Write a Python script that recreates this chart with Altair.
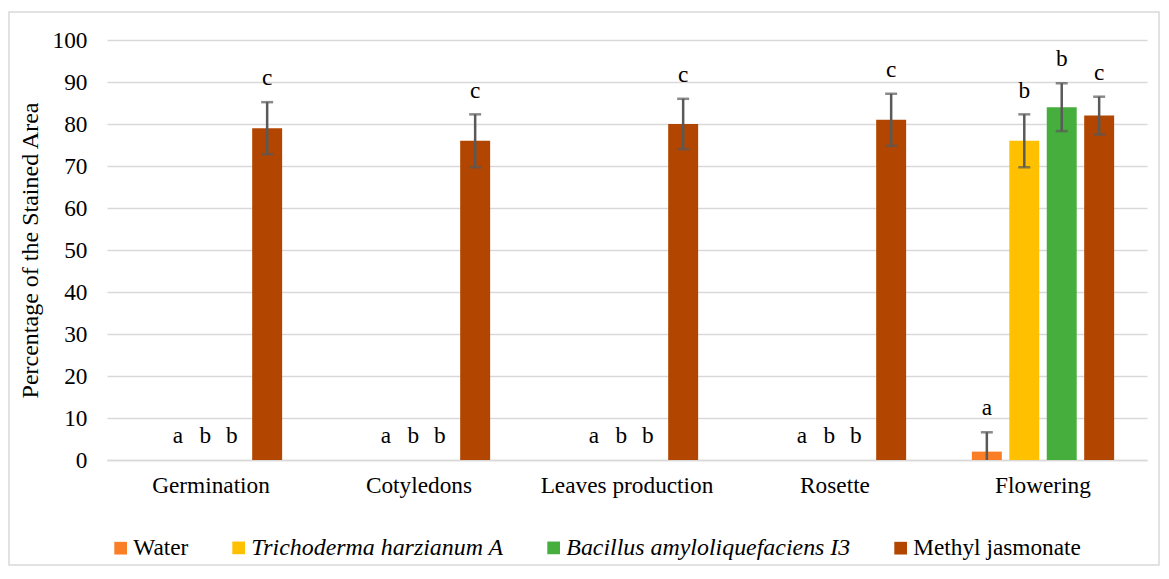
import altair as alt
import pandas as pd

categories = ["Germination", "Cotyledons", "Leaves production", "Rosette", "Flowering"]
series = ["Water", "Trichoderma harzianum A", "Bacillus amyloliquefaciens I3", "Methyl jasmonate"]
colors = ["#FA7E26", "#FFC000", "#46AE3C", "#B24500"]

water_values = [0, 0, 0, 0, 2]
trichoderma_values = [0, 0, 0, 0, 76]
bacillus_values = [0, 0, 0, 0, 84]
mj_values = [79, 76, 80, 81, 82]

water_err = [0, 0, 0, 0, 4.6]
trichoderma_err = [0, 0, 0, 0, 6.3]
bacillus_err = [0, 0, 0, 0, 5.7]
mj_err = [6.2, 6.3, 6.0, 6.2, 4.5]

water_letters = ["a", "a", "a", "a", "a"]
trichoderma_letters = ["b", "b", "b", "b", "b"]
bacillus_letters = ["b", "b", "b", "b", "b"]
mj_letters = ["c", "c", "c", "c", "c"]

rows = []
for s, vals, errs, lets in zip(
    series,
    [water_values, trichoderma_values, bacillus_values, mj_values],
    [water_err, trichoderma_err, bacillus_err, mj_err],
    [water_letters, trichoderma_letters, bacillus_letters, mj_letters],
):
    for i, c in enumerate(categories):
        rows.append({"stage": c, "treatment": s, "value": vals[i], "err": errs[i], "letter": lets[i]})
df = pd.DataFrame(rows)

FONT = "Liberation Serif"
FS = 23.3
GRID = "#D9D9D9"
ERRC = "#595959"
ITALIC_TEST = "indexof(['Trichoderma harzianum A','Bacillus amyloliquefaciens I3'], datum.label) >= 0"

x_enc = alt.X(
    "stage:N",
    sort=categories,
    scale=alt.Scale(paddingInner=0.28, paddingOuter=0.14),
    axis=alt.Axis(
        title=None, labelAngle=0, labelFont=FONT, labelFontSize=FS, labelColor="black",
        labelPadding=14, ticks=False, domainColor=GRID, domainWidth=1.5,
    ),
)
xo_enc = alt.XOffset("treatment:N", sort=series, scale=alt.Scale(paddingInner=0.2, paddingOuter=0.1))

base = alt.Chart(df).encode(x=x_enc, xOffset=xo_enc)

bars = base.mark_bar().encode(
    y=alt.Y(
        "value:Q",
        scale=alt.Scale(domain=[0, 100], nice=False),
        axis=alt.Axis(
            values=list(range(0, 101, 10)), title="Percentage of the Stained Area",
            titleFont=FONT, titleFontSize=24, titleFontWeight="normal", titleColor="black",
            titlePadding=10, labelFont=FONT, labelFontSize=FS, labelColor="black",
            labelPadding=20, domain=False, ticks=False, gridColor=GRID, gridWidth=1.5,
        ),
    ),
    color=alt.Color(
        "treatment:N",
        sort=series,
        scale=alt.Scale(domain=series, range=colors),
        legend=alt.Legend(
            title=None, orient="none", legendX=2, legendY=496, direction="horizontal",
            symbolType="square", symbolSize=161, symbolStrokeWidth=0,
            labelFont=FONT, labelColor="black", labelOffset=1,
            columnPadding=38, labelLimit=400,
            labelFontSize={"expr": ITALIC_TEST + " ? 23.9 : 23.3"},
            labelFontStyle={"expr": ITALIC_TEST + " ? 'italic' : 'normal'"},
        ),
    ),
)

err_base = base.transform_filter("datum.err > 0").transform_calculate(
    lo="max(0, datum.value - datum.err)", hi="datum.value + datum.err"
)
err_rule = err_base.mark_rule(color=ERRC, strokeWidth=2.5).encode(y="lo:Q", y2="hi:Q")
cap_hi = err_base.mark_tick(orient="horizontal", size=12, thickness=2.5, color=ERRC).encode(y="hi:Q")
cap_lo = err_base.transform_filter("datum.value - datum.err > 0").mark_tick(
    orient="horizontal", size=12, thickness=2.5, color=ERRC
).encode(y="lo:Q")

txt_base = base.transform_calculate(ly="datum.value + datum.err + 4")
letters_main = txt_base.transform_filter("datum.value > 0").mark_text(
    font=FONT, fontSize=FS, baseline="alphabetic", color="black"
).encode(y="ly:Q", text="letter:N")

zero_layers = []
for s, dx in zip(series[:3], [23, 13, 2]):
    zero_layers.append(
        txt_base.transform_filter(alt.datum.value == 0).transform_filter(alt.datum.treatment == s)
        .mark_text(font=FONT, fontSize=FS, baseline="alphabetic", color="black", dx=dx)
        .encode(y="ly:Q", text="letter:N")
    )

frame = alt.Chart(pd.DataFrame({"f": [0]})).mark_rect(
    fill=None, stroke=GRID, strokeWidth=1.5, clip=False
).encode(x=alt.value(-98), x2=alt.value(1052), y=alt.value(-28), y2=alt.value(525))

chart = alt.layer(frame, bars, err_rule, cap_hi, cap_lo, letters_main, *zero_layers).properties(
    width=1040, height=420,
    padding={"left": 99, "top": 32, "right": 14, "bottom": 107},
    autosize=alt.AutoSizeParams(type="none"),
).configure_view(stroke=None)

chart.save("out.html", embed_options={"renderer": "svg", "actions": False})
